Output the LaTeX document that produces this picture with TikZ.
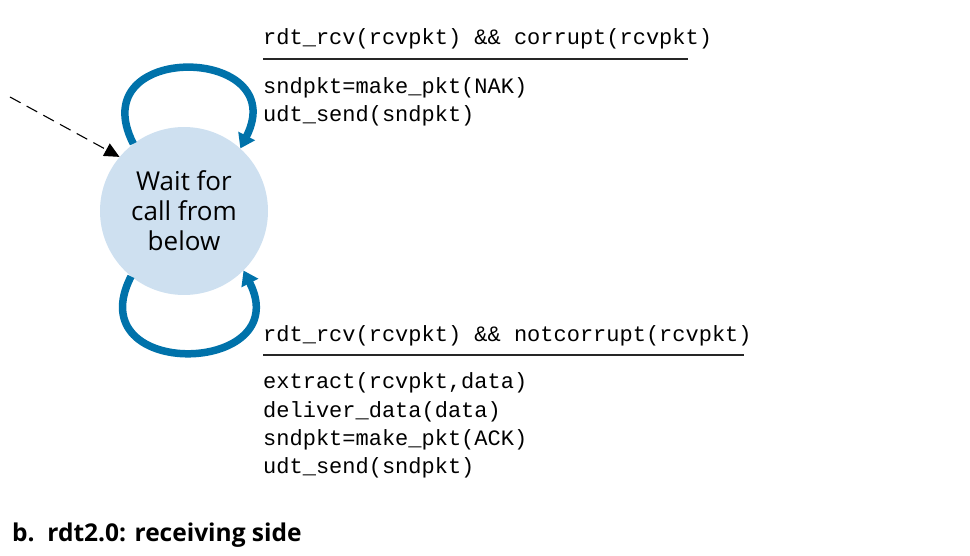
\documentclass[tikz,border=0pt]{standalone}
\usepackage{fontspec}
\setmainfont{Open Sans}
\setmonofont{Liberation Mono}
\usetikzlibrary{arrows.meta}
\usetikzlibrary{positioning}

\definecolor{statefill}{RGB}{206,224,240}
\definecolor{loopblue}{RGB}{0,114,170}

\tikzset{
  state/.style={circle,fill=statefill,minimum size=168pt,inner sep=0pt,align=center,
    font=\fontsize{26}{30}\selectfont},
  selfloop/.style={draw=loopblue,line width=7.5pt,-{Triangle[length=14pt,width=18pt]}},
  initial/.style={draw=black,line width=1.1pt,dash pattern=on 12pt off 7pt,
    -{Triangle[length=15pt,width=14pt]}},
  code/.style={inner sep=0pt,anchor=base west,font=\ttfamily\fontsize{22}{28}\selectfont},
  guardline/.style={draw=black!85,line width=1.8pt},
}

\begin{document}
\begin{tikzpicture}[x=1pt,y=1pt]
    \useasboundingbox (0,0) rectangle (970,555);
    \node[state] (wait) at (184,344) {Wait for\\call from\\below};
    \coordinate (start) at (10,458);
    \draw[initial] (start) -- (wait.140);

    % self loops
    \draw[selfloop] (wait.127) .. controls +(117:116) and +(63:116) .. (wait.48);
    \draw[selfloop] (wait.231) .. controls +(243:118) and +(297:118) .. (wait.315);

    % top transition
    \node[code] (guardnak) at (263,510) {rdt\_rcv(rcvpkt) \&\& corrupt(rcvpkt)};
    \draw[guardline] (263,496) -- (688,496);
    \node[code] (nak1) at (263,461) {sndpkt=make\_pkt(NAK)};
    \node[code] (nak2) at (263,433) {udt\_send(sndpkt)};

    % bottom transition
    \node[code] (guardack) at (263,213) {rdt\_rcv(rcvpkt) \&\& notcorrupt(rcvpkt)};
    \draw[guardline] (263,200) -- (744,200);
    \node[code] (ack1) at (263,167) {extract(rcvpkt,data)};
    \node[code] (ack2) at (263,138) {deliver\_data(data)};
    \node[code] (ack3) at (263,110) {sndpkt=make\_pkt(ACK)};
    \node[code] (ack4) at (263,82) {udt\_send(sndpkt)};

    \node[inner sep=0pt,anchor=base west,font=\bfseries\fontsize{24.5}{28}\selectfont] (caption)
      at (12,14) {b.\ \ rdt2.0: receiving side};
\end{tikzpicture}
\end{document}
